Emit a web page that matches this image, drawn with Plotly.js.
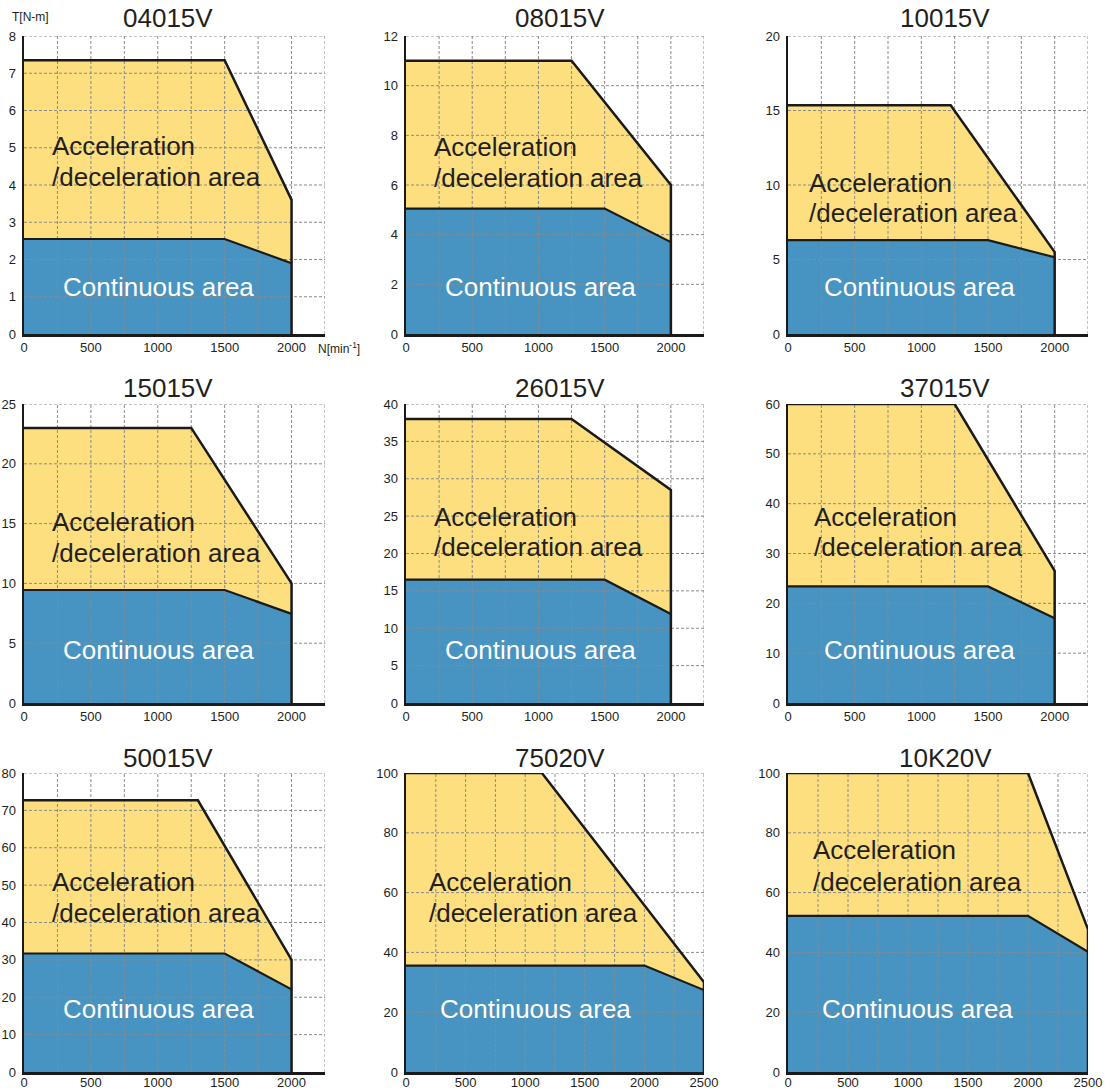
<!DOCTYPE html>
<html>
<head>
<meta charset="utf-8">
<script src="https://cdn.plot.ly/plotly-3.0.1.min.js"></script>
<style>html,body{margin:0;padding:0;background:#fff;}</style>
</head>
<body>
<div id="chart" style="width:1105px;height:1090px;"></div>
<script>
// ---- data ----
const models = ['04015V','08015V','10015V','15015V','26015V','37015V','50015V','75020V','10K20V'];
// Acceleration/deceleration area boundary (speed N [min^-1], torque T [N-m])
const accN = [
  [0,1500,2000,2000],[0,1250,2000,2000],[0,1220,2000,2000],
  [0,1250,2000,2000],[0,1250,2000,2000],[0,1250,2000,2000],
  [0,1300,2000,2000],[0,1140,2500,2500],[0,2000,2500,2500]
];
const accT = [
  [7.35,7.35,3.6,0],[11,11,6.0,0],[15.35,15.35,5.5,0],
  [23,23,10,0],[38,38,28.5,0],[60,60,26.5,0],
  [72.7,72.7,30,0],[100,100,30,0],[100,100,47.7,0]
];
// Continuous area boundary
const contN = [
  [0,1500,2000,2000],[0,1500,2000,2000],[0,1500,2000,2000],
  [0,1500,2000,2000],[0,1500,2000,2000],[0,1500,2000,2000],
  [0,1500,2000,2000],[0,2000,2500,2500],[0,2000,2500,2500]
];
const contT = [
  [2.55,2.55,1.9,0],[5.05,5.05,3.7,0],[6.3,6.3,5.15,0],
  [9.45,9.45,7.45,0],[16.5,16.5,11.9,0],[23.4,23.4,17,0],
  [31.7,31.7,22.1,0],[35.6,35.6,27.4,0],[52.2,52.2,40.2,0]
];
const yMax  = [8,12,20,25,40,60,80,100,100];
const yStep = [1,2,5,5,5,10,10,20,20];
const xMax  = [2250,2250,2250,2250,2250,2250,2250,2500,2500];
const xLabelStep = 500;
const xGridStep = 250;
const accLabel1 = 'Acceleration';
const accLabel2 = '/deceleration area';
const contLabel = 'Continuous area';
const yAxisLabel = 'T[N-m]';
const xAxisLabel = 'N[min<sup>-1</sup>]';

// ---- layout geometry (pixels) ----
const W = 1105, H = 1090;
const colL = [24, 406, 788], colR = [325, 704, 1088];
const rowT = [36, 404, 773], rowB = [334, 703, 1072];
const titleX = [168, 560, 945], titleY = [18, 388, 758];
const accPos = [[50,146,177],[432,147,178],[807,183,213],[50,522,553],[432,517,547],[812,517,547],[50,882,913],[427,882,913],[811,850,882]];
const contPos = [[158,287],[540,287],[919,287],[158,650],[540,650],[919,650],[158,1009],[535,1009],[917,1009]];
const px = x => x / W;
const py = y => 1 - y / H;

const FONT = 'Liberation Sans, Arial, Helvetica, sans-serif';
const YELLOW = '#fddf80';
const BLUE = '#4793c1';
const GRID = '#8a8a8a';
const DASH = '3px,2px';
const OUTLINE = '#1a1a1a';

const traces = [];
const layout = {
  width: W, height: H,
  margin: {l:0, r:0, t:0, b:0},
  paper_bgcolor: '#fff', plot_bgcolor: '#fff',
  showlegend: false,
  font: {family: FONT, color: '#231f20'},
  annotations: []
};

models.forEach((m, i) => {
  const r = Math.floor(i / 3), c = i % 3;
  const n = i + 1;
  const xa = 'x' + (n === 1 ? '' : n), ya = 'y' + (n === 1 ? '' : n);
  // filled areas (no outline)
  traces.push({
    type: 'scatter', mode: 'lines', x: accN[i], y: accT[i], xaxis: xa, yaxis: ya,
    fill: 'tozeroy', fillcolor: YELLOW, line: {width: 0, color: YELLOW}, hoverinfo: 'skip'
  });
  traces.push({
    type: 'scatter', mode: 'lines', x: contN[i], y: contT[i], xaxis: xa, yaxis: ya,
    fill: 'tozeroy', fillcolor: BLUE, line: {width: 0, color: BLUE}, hoverinfo: 'skip'
  });
  // dashed grid drawn over the fills, below the outlines
  const gX = [], gY = [];
  for (let gx = xGridStep; gx <= xMax[i] + 1e-9; gx += xGridStep) {
    gX.push(gx, gx, null); gY.push(0, yMax[i], null);
  }
  for (let gy = yStep[i]; gy <= yMax[i] + 1e-9; gy += yStep[i]) {
    gX.push(0, xMax[i], null); gY.push(gy, gy, null);
  }
  traces.push({
    type: 'scatter', mode: 'lines', x: gX, y: gY, xaxis: xa, yaxis: ya,
    line: {color: GRID, width: 1, dash: DASH}, connectgaps: false, hoverinfo: 'skip'
  });
  // outlines
  traces.push({
    type: 'scatter', mode: 'lines', x: accN[i], y: accT[i], xaxis: xa, yaxis: ya,
    line: {color: OUTLINE, width: 2.5}, hoverinfo: 'skip'
  });
  traces.push({
    type: 'scatter', mode: 'lines', x: contN[i].slice(0, 3), y: contT[i].slice(0, 3), xaxis: xa, yaxis: ya,
    line: {color: OUTLINE, width: 2.2}, hoverinfo: 'skip'
  });
  const xk = 'xaxis' + (n === 1 ? '' : n), yk = 'yaxis' + (n === 1 ? '' : n);
  layout[xk] = {
    domain: [px(colL[c]), px(colR[c])], anchor: ya,
    range: [0, xMax[i]], dtick: xLabelStep, tick0: 0,
    showgrid: false,
    showline: true, linecolor: OUTLINE, linewidth: 2.5, layer: 'above traces',
    zeroline: false, ticks: '', tickfont: {size: 13, color: '#231f20'},
    ticklabelstandoff: r === 2 ? -3 : 0,
    fixedrange: true
  };
  layout[yk] = {
    domain: [py(rowB[r]), py(rowT[r])], anchor: xa,
    range: [0, yMax[i]], dtick: yStep[i], tick0: 0,
    showgrid: false,
    showline: true, linecolor: OUTLINE, linewidth: 2.5, layer: 'above traces',
    zeroline: false, ticks: 'outside', ticklen: 3, tickcolor: 'rgba(0,0,0,0)',
    tickfont: {size: 13, color: '#231f20'},
    fixedrange: true
  };
  layout.annotations.push({
    xref: 'paper', yref: 'paper', x: px(titleX[c]), y: py(titleY[r]),
    xanchor: 'center', yanchor: 'middle', showarrow: false,
    text: m, font: {size: 26, color: '#231f20', family: FONT}
  });
  const a = accPos[i];
  layout.annotations.push({
    xref: 'paper', yref: 'paper', x: px(a[0]), y: py(a[1]),
    xanchor: 'left', yanchor: 'middle', showarrow: false,
    text: accLabel1, font: {size: 26, color: '#231f20', family: FONT}
  });
  layout.annotations.push({
    xref: 'paper', yref: 'paper', x: px(a[0]), y: py(a[2]),
    xanchor: 'left', yanchor: 'middle', showarrow: false,
    text: accLabel2, font: {size: 26, color: '#231f20', family: FONT}
  });
  const cp = contPos[i];
  layout.annotations.push({
    xref: 'paper', yref: 'paper', x: px(cp[0]), y: py(cp[1]),
    xanchor: 'center', yanchor: 'middle', showarrow: false,
    text: contLabel, font: {size: 26, color: '#ffffff', family: FONT}
  });
});

layout.annotations.push({
  xref: 'paper', yref: 'paper', x: px(10), y: py(17),
  xanchor: 'left', yanchor: 'middle', showarrow: false,
  text: yAxisLabel, font: {size: 12, color: '#231f20', family: FONT}
});
layout.annotations.push({
  xref: 'paper', yref: 'paper', x: px(316), y: py(348),
  xanchor: 'left', yanchor: 'middle', showarrow: false,
  text: xAxisLabel, font: {size: 12, color: '#231f20', family: FONT}
});

Plotly.newPlot('chart', traces, layout, {staticPlot: true, displayModeBar: false});
</script>
</body>
</html>
